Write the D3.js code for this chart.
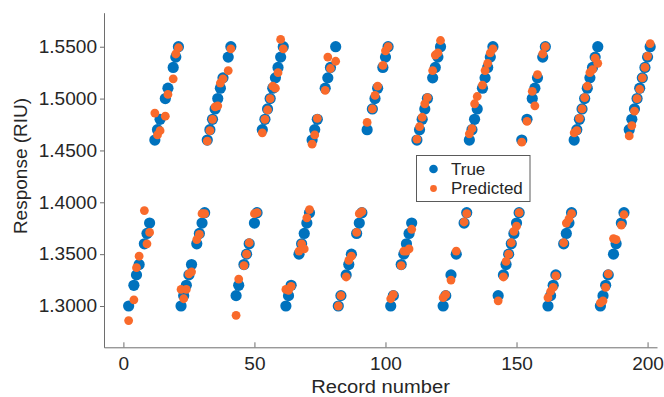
<!DOCTYPE html>
<html>
<head>
<meta charset="utf-8">
<script src="https://cdn.jsdelivr.net/npm/d3@7"></script>
<style>
  html, body { margin: 0; padding: 0; background: #fff; }
  svg { display: block; font-family: "Liberation Sans", Arial, Helvetica, sans-serif; }
</style>
</head>
<body>
<svg id="chart" width="664" height="397"></svg>
<script>
// Record numbers present in the test set
const records = [
  2, 4, 5, 6, 8, 9, 10,
  12, 13, 14, 16, 17, 19, 20, 21,
  22, 23, 24, 25, 26, 28, 29, 30, 31,
  32, 33, 34, 35, 36, 37, 38, 40, 41,
  43, 44, 46, 47, 48, 50, 51,
  53, 54, 55, 56, 57, 58, 59, 60, 61,
  62, 63, 64, 67, 68, 69, 70, 71,
  72, 73, 74, 77, 78, 79, 81,
  82, 83, 85, 86, 87, 89, 90, 91,
  93, 95, 96, 97, 99, 100, 101,
  102, 103, 106, 107, 108, 109, 110,
  112, 113, 114, 115, 116, 118, 119, 120, 121,
  122, 123, 125, 127, 130, 131,
  132, 133, 134, 135, 137, 138, 139, 140, 141,
  143, 145, 146, 147, 148, 149, 150, 151,
  152, 154, 156, 157, 158, 160, 161,
  162, 163, 164, 165, 168, 169, 170, 171,
  172, 173, 174, 175, 176, 177, 178, 179, 180, 181,
  182, 183, 184, 185, 187, 188, 190, 191,
  193, 194, 195, 196, 197, 198, 199, 200, 201
];

// Measured refractive index (RIU)
const trueValues = [
  1.30, 1.32, 1.33, 1.34, 1.36, 1.37, 1.38,
  1.46, 1.47, 1.48, 1.50, 1.51, 1.53, 1.54, 1.55,
  1.30, 1.31, 1.32, 1.33, 1.34, 1.36, 1.37, 1.38, 1.39,
  1.46, 1.47, 1.48, 1.49, 1.50, 1.51, 1.52, 1.54, 1.55,
  1.31, 1.32, 1.34, 1.35, 1.36, 1.38, 1.39,
  1.47, 1.48, 1.49, 1.50, 1.51, 1.52, 1.53, 1.54, 1.55,
  1.30, 1.31, 1.32, 1.35, 1.36, 1.37, 1.38, 1.39,
  1.46, 1.47, 1.48, 1.51, 1.52, 1.53, 1.55,
  1.30, 1.31, 1.33, 1.34, 1.35, 1.37, 1.38, 1.39,
  1.47, 1.49, 1.50, 1.51, 1.53, 1.54, 1.55,
  1.30, 1.31, 1.34, 1.35, 1.36, 1.37, 1.38,
  1.46, 1.47, 1.48, 1.49, 1.50, 1.52, 1.53, 1.54, 1.55,
  1.30, 1.31, 1.33, 1.35, 1.38, 1.39,
  1.46, 1.47, 1.48, 1.49, 1.51, 1.52, 1.53, 1.54, 1.55,
  1.31, 1.33, 1.34, 1.35, 1.36, 1.37, 1.38, 1.39,
  1.46, 1.48, 1.50, 1.51, 1.52, 1.54, 1.55,
  1.30, 1.31, 1.32, 1.33, 1.36, 1.37, 1.38, 1.39,
  1.46, 1.47, 1.48, 1.49, 1.50, 1.51, 1.52, 1.53, 1.54, 1.55,
  1.30, 1.31, 1.32, 1.33, 1.35, 1.36, 1.38, 1.39,
  1.47, 1.48, 1.49, 1.50, 1.51, 1.52, 1.53, 1.54, 1.55
];

// Model prediction (RIU)
const predictedValues = [
  1.286, 1.306, 1.337, 1.348, 1.392, 1.360, 1.371,
  1.486, 1.465, 1.469, 1.483, 1.504, 1.519, 1.543, 1.549,
  1.316, 1.307, 1.316, 1.331, 1.333, 1.364, 1.369, 1.389, 1.389,
  1.459, 1.469, 1.480, 1.492, 1.493, 1.515, 1.519, 1.527, 1.548,
  1.291, 1.326, 1.339, 1.350, 1.361, 1.389, 1.390,
  1.467, 1.480, 1.489, 1.500, 1.512, 1.510, 1.525, 1.557, 1.548,
  1.316, 1.315, 1.319, 1.353, 1.360, 1.355, 1.385, 1.393,
  1.456, 1.465, 1.481, 1.508, 1.540, 1.529, 1.536,
  1.300, 1.310, 1.328, 1.344, 1.348, 1.371, 1.389, 1.391,
  1.477, 1.490, 1.503, 1.512, 1.532, 1.546, 1.550,
  1.307, 1.311, 1.339, 1.353, 1.353, 1.355, 1.374,
  1.461, 1.473, 1.482, 1.495, 1.501, 1.527, 1.542, 1.544, 1.556,
  1.308, 1.311, 1.325, 1.353, 1.381, 1.389,
  1.466, 1.471, 1.495, 1.502, 1.513, 1.527, 1.534, 1.544, 1.548,
  1.305, 1.328, 1.343, 1.350, 1.361, 1.372, 1.377, 1.390,
  1.458, 1.478, 1.507, 1.493, 1.523, 1.543, 1.550,
  1.308, 1.314, 1.318, 1.329, 1.361, 1.380, 1.384, 1.389,
  1.467, 1.469, 1.481, 1.490, 1.501, 1.512, 1.525, 1.528, 1.539, 1.534,
  1.303, 1.305, 1.318, 1.331, 1.365, 1.364, 1.378, 1.388,
  1.464, 1.474, 1.488, 1.500, 1.509, 1.520, 1.530, 1.541, 1.553
];

const xTicks = [0, 50, 100, 150, 200];
const yTicks = [1.30, 1.35, 1.40, 1.45, 1.50, 1.55];
const seriesNames = ["True", "Predicted"];
const seriesColors = ["#0072BD", "#F96A2B"];

// ---- layout ----
const svg = d3.select("#chart");
const plot = { left: 104, right: 657, top: 12.7, bottom: 347.3 };
const axisColor = "#6e6e6e";
const textColor = "#262626";
const fontFamily = "Liberation Sans, Arial, sans-serif";
const widen = "scale(1.06,1)"; // slightly wide lettering for horizontal labels

const x = d3.scaleLinear().domain([-7.4, 203.6]).range([plot.left, plot.right]);
const y = d3.scaleLinear().domain([1.2602, 1.5828]).range([plot.bottom, plot.top]);

// ---- axes ----
const xAxis = svg.append("g")
  .attr("transform", `translate(0,${plot.bottom})`)
  .call(d3.axisBottom(x).tickValues(xTicks).tickFormat(d3.format("d"))
    .tickSizeInner(-5).tickSizeOuter(0).tickPadding(12));
xAxis.select(".domain").attr("stroke", axisColor);
xAxis.selectAll(".tick line").attr("stroke", axisColor);
xAxis.selectAll(".tick text")
  .attr("fill", textColor).attr("font-size", 18)
  .attr("font-family", fontFamily)
  .attr("dy", "0.71em").attr("y", 9.5)
  .attr("transform", widen);

const yAxis = svg.append("g")
  .attr("transform", `translate(${plot.left},0)`)
  .call(d3.axisLeft(y).tickValues(yTicks).tickFormat(d3.format(".4f"))
    .tickSizeInner(4).tickSizeOuter(0).tickPadding(3));
yAxis.select(".domain").attr("stroke", axisColor);
yAxis.selectAll(".tick line").attr("stroke", axisColor);
yAxis.selectAll(".tick text")
  .attr("fill", textColor).attr("font-size", 18)
  .attr("font-family", fontFamily)
  .attr("x", -7 / 1.06)
  .attr("transform", widen);

// axis titles
svg.append("text")
  .attr("transform", `translate(${(plot.left + plot.right) / 2},393) ${widen}`)
  .attr("text-anchor", "middle").attr("font-size", 19).attr("fill", textColor)
  .text("Record number");

svg.append("text")
  .attr("transform", "translate(27,166) rotate(-90)")
  .attr("text-anchor", "middle").attr("font-size", 19).attr("fill", textColor)
  .text("Response (RIU)");

// ---- markers ----
const points = records.map((r, i) => ({ r, t: trueValues[i], p: predictedValues[i] }));

svg.append("g").selectAll("circle")
  .data(points).join("circle")
  .attr("cx", d => x(d.r)).attr("cy", d => y(d.t))
  .attr("r", 5.6).attr("fill", seriesColors[0]);

svg.append("g").selectAll("circle")
  .data(points).join("circle")
  .attr("cx", d => x(d.r)).attr("cy", d => y(d.p))
  .attr("r", 4.4).attr("fill", seriesColors[1]);

// ---- legend ----
const legend = svg.append("g").attr("transform", "translate(416.5,155.5)");
legend.append("rect")
  .attr("width", 113.5).attr("height", 46)
  .attr("fill", "#fff").attr("stroke", "#5a5a5a").attr("stroke-width", 1);
const legendRadius = [4.3, 3.4];
seriesNames.forEach((name, i) => {
  const rowY = 13.5 + i * 19.5;
  legend.append("circle")
    .attr("cx", 17).attr("cy", rowY).attr("r", legendRadius[i])
    .attr("fill", seriesColors[i]);
  legend.append("text")
    .attr("x", 34.5).attr("y", rowY + 5.6)
    .attr("font-size", 17).attr("fill", textColor)
    .text(name);
});
</script>
</body>
</html>
